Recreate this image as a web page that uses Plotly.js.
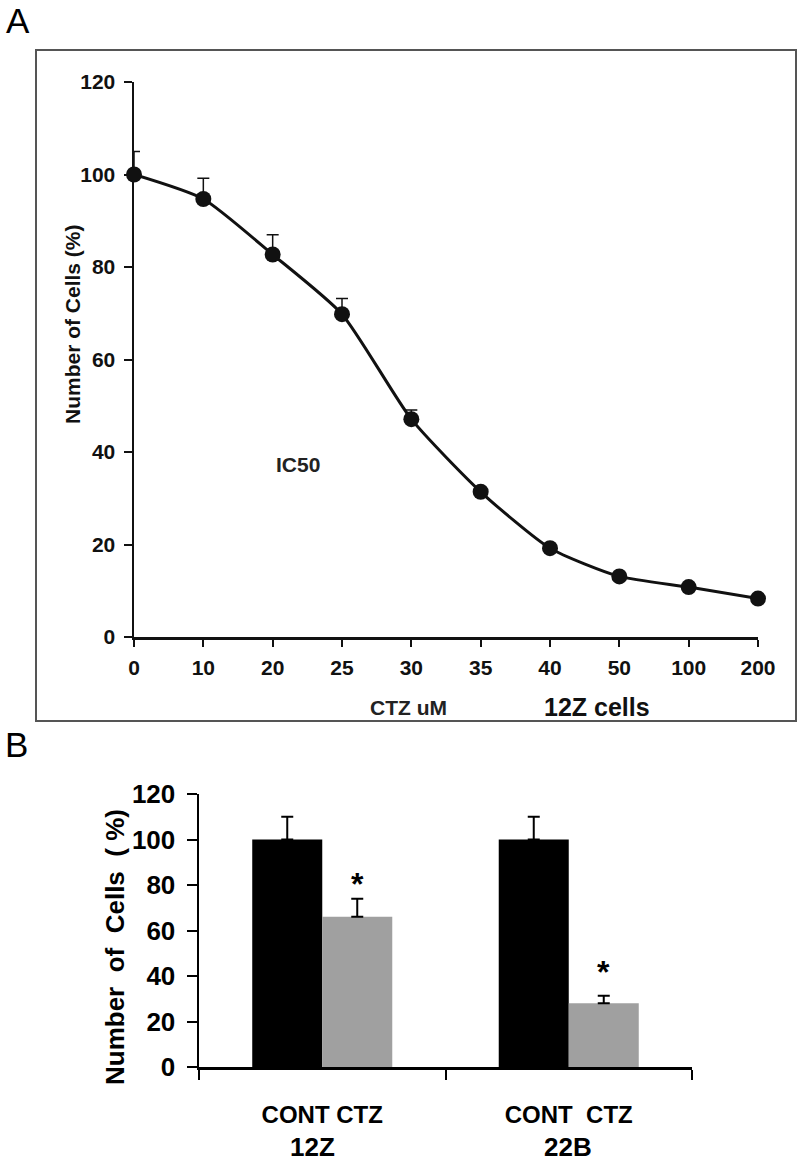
<!DOCTYPE html>
<html>
<head>
<meta charset="utf-8">
<script src="https://cdn.plot.ly/plotly-3.0.1.min.js"></script>
<style>html,body{margin:0;padding:0;background:#fff;}#chart{width:800px;height:1164px;}</style>
</head>
<body>
<div id="chart"></div>
<script>
// Panel A: dose response
const doseLabels = ['0','10','20','25','30','35','40','50','100','200'];
const cellPct = [100, 94.7, 82.7, 69.8, 47.1, 31.4, 19.2, 13.1, 10.8, 8.3];
const cellErr = [5, 4.5, 4.3, 3.4, 2.0, 0.8, 0.6, 0.5, 0.5, 0.4];
const yTicksA = [0, 20, 40, 60, 80, 100, 120];

// Panel B: bars
const cellLines = ['12Z', '22B'];
const contVals = [100, 100];
const contErr = [10, 10];
const ctzVals = [66, 28];
const ctzErr = [8, 3.3];
const yTicksB = [0, 20, 40, 60, 80, 100, 120];
const groupLabels = ['CONT CTZ', 'CONT  CTZ'];
const starY = [84.4, 45.7];

const FA = 'Liberation Sans, Arial, sans-serif';

const traces = [
  {
    type: 'scatter', mode: 'lines+markers', x: doseLabels, y: cellPct,
    xaxis: 'x', yaxis: 'y', cliponaxis: false,
    line: {color: '#111', width: 3, shape: 'spline', smoothing: 0.6},
    marker: {color: '#111', size: 16},
    error_y: {type: 'data', symmetric: false, array: cellErr, arrayminus: cellErr.map(() => 0),
      color: '#111', thickness: 1.5, width: 6},
    showlegend: false, hoverinfo: 'skip'
  },
  {
    type: 'bar', x: cellLines, y: contVals, xaxis: 'x2', yaxis: 'y2', name: 'CONT',
    marker: {color: '#000'},
    error_y: {type: 'data', symmetric: false, array: contErr, arrayminus: [0, 0], color: '#000', thickness: 2, width: 6},
    showlegend: false, hoverinfo: 'skip'
  },
  {
    type: 'bar', x: cellLines, y: ctzVals, xaxis: 'x2', yaxis: 'y2', name: 'CTZ',
    marker: {color: '#a0a0a0'},
    error_y: {type: 'data', symmetric: false, array: ctzErr, arrayminus: [0, 0], color: '#000', thickness: 2, width: 6},
    showlegend: false, hoverinfo: 'skip'
  }
];

const annotations = [
  {text: 'A', xref: 'paper', yref: 'paper', x: 18/800, y: 1 - 20/1164, xanchor: 'center', yanchor: 'middle',
   showarrow: false, font: {family: FA, size: 35, color: '#000'}},
  {text: 'B', xref: 'paper', yref: 'paper', x: 16/800, y: 1 - 745/1164, xanchor: 'center', yanchor: 'middle',
   showarrow: false, font: {family: FA, size: 35, color: '#000'}},
  {text: 'Number of Cells (%)', xref: 'paper', yref: 'paper', x: 72/800, y: 1 - 324/1164, textangle: -90,
   xanchor: 'center', yanchor: 'middle',
   showarrow: false, font: {family: FA, size: 21, color: '#111', weight: 'bold'}},
  {text: 'IC50', xref: 'paper', yref: 'paper', x: 298/800, y: 1 - 464/1164, xanchor: 'center', yanchor: 'middle',
   showarrow: false, font: {family: FA, size: 21, color: '#222', weight: 'bold'}},
  {text: 'CTZ uM', xref: 'paper', yref: 'paper', x: 408/800, y: 1 - 708/1164, xanchor: 'center', yanchor: 'middle',
   showarrow: false, font: {family: FA, size: 21, color: '#222', weight: 'bold'}},
  {text: '12Z cells', xref: 'paper', yref: 'paper', x: 597/800, y: 1 - 707/1164, xanchor: 'center', yanchor: 'middle',
   showarrow: false, font: {family: FA, size: 25, color: '#111', weight: 'bold'}},
  {text: 'Number  of  Cells  ( %)', xref: 'paper', yref: 'paper', x: 115/800, y: 1 - 947/1164, textangle: -90,
   xanchor: 'center', yanchor: 'middle',
   showarrow: false, font: {family: FA, size: 26, color: '#000', weight: 'bold'}}
];
cellLines.forEach((c, i) => {
  annotations.push({text: '*', xref: 'x2', yref: 'y2', x: c, y: starY[i], xshift: 35, yshift: -9,
    xanchor: 'center', yanchor: 'middle',
    showarrow: false, font: {family: FA, size: 32, color: '#000', weight: 'bold'}});
  annotations.push({text: c, xref: 'x2', yref: 'paper', x: c, y: 0, xshift: -10 + 9 * i,
    xanchor: 'center', yanchor: 'bottom',
    showarrow: false, font: {family: FA, size: 26, color: '#000', weight: 'bold'}});
});

const layout = {
  width: 800, height: 1164,
  margin: {l: 0, r: 0, t: 0, b: 0},
  paper_bgcolor: '#fff', plot_bgcolor: 'rgba(0,0,0,0)',
  showlegend: false,
  barmode: 'group', bargap: 0.432, bargroupgap: 0,
  xaxis: {
    domain: [134/800, 758/800], anchor: 'y', type: 'category', range: [0, 9],
    showline: true, linecolor: '#111', linewidth: 2.5, showgrid: false, zeroline: false,
    ticks: 'outside', ticklen: 7, tickwidth: 2, tickcolor: '#111',
    tickfont: {family: FA, size: 21, color: '#111', weight: 'bold'}, ticklabelstandoff: 3
  },
  yaxis: {
    domain: [1 - 637/1164, 1 - 82/1164], anchor: 'x', range: [0, 120],
    tickvals: yTicksA, showline: true, linecolor: '#111', linewidth: 2.5, showgrid: false, zeroline: false,
    ticks: 'outside', ticklen: 8, tickwidth: 2, tickcolor: '#111',
    tickfont: {family: FA, size: 21, color: '#111', weight: 'bold'}, ticklabelstandoff: 4
  },
  xaxis2: {
    domain: [199/800, 692/800], anchor: 'y2', type: 'category', range: [-0.5, 1.5],
    tickson: 'boundaries', tickvals: cellLines, ticktext: groupLabels,
    showline: true, linecolor: '#000', linewidth: 2.5, showgrid: false, zeroline: false,
    ticks: 'outside', ticklen: 10, tickwidth: 2, tickcolor: '#000',
    tickfont: {family: FA, size: 24, color: '#000', weight: 'bold'}, ticklabelstandoff: 25
  },
  yaxis2: {
    domain: [1 - 1067/1164, 1 - 794/1164], anchor: 'x2', range: [0, 120],
    tickvals: yTicksB, showline: true, linecolor: '#000', linewidth: 2.5, showgrid: false, zeroline: false,
    ticks: 'outside', ticklen: 10, tickwidth: 2, tickcolor: '#000',
    tickfont: {family: FA, size: 26, color: '#000', weight: 'bold'}, ticklabelstandoff: 6
  },
  shapes: [
    {type: 'rect', xref: 'paper', yref: 'paper', x0: 36/800, x1: 796/800, y0: 1 - 721/1164, y1: 1 - 50/1164,
     line: {color: '#555', width: 2}, fillcolor: 'rgba(0,0,0,0)', layer: 'below'}
  ],
  annotations: annotations
};

Plotly.newPlot('chart', traces, layout, {staticPlot: true, displayModeBar: false});
</script>
</body>
</html>
